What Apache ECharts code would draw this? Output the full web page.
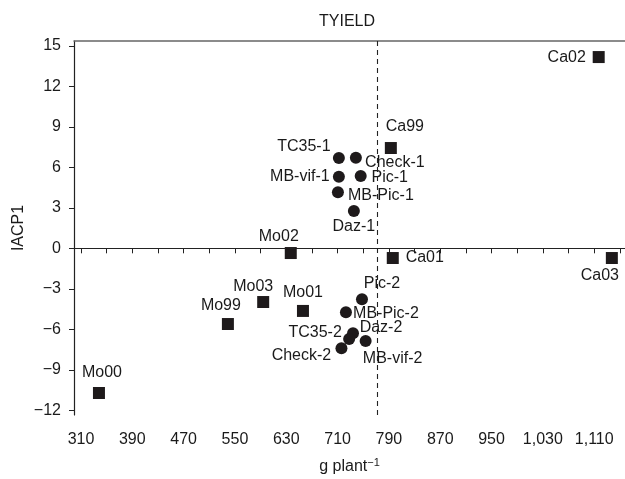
<!DOCTYPE html>
<html><head><meta charset="utf-8">
<script src="https://cdn.jsdelivr.net/npm/echarts@6/dist/echarts.min.js"></script>
<style>html,body{margin:0;padding:0;background:#fff}#c{width:625px;height:479px}</style>
</head><body><div id="c"></div>
<script>
// Data
const squareNames = ['Mo00','Mo99','Mo03','Mo01','Mo02','Ca01','Ca99','Ca02','Ca03'];
const squareX = [338, 539, 594, 656, 637, 796, 793, 1117, 1137.5];
const squareY = [-10.72, -5.61, -3.98, -4.64, -0.35, -0.72, 7.43, 14.17, -0.72];
const circleNames = ['TC35-1','Check-1','MB-vif-1','Pic-1','MB-Pic-1','Daz-1','Pic-2','MB-Pic-2','Daz-2','TC35-2','Check-2','MB-vif-2'];
const circleX = [712, 738.5, 712, 746, 710.5, 735.4, 748, 723, 734, 728, 716, 753.7];
const circleY = [6.69, 6.71, 5.30, 5.36, 4.15, 2.76, -3.78, -4.74, -6.30, -6.72, -7.41, -6.87];
const refX = 772;
const refY = 0;
const xTicks = [310,350,390,430,470,510,550,590,630,670,710,750,790,830,870,910,950,990,1030,1070,1110,1150];
const xLabels = [310,390,470,550,630,710,790,870,950,1030,1110];
const yTicks = [-12,-9,-6,-3,0,3,6,9,12,15];

// Label offsets (style): label centre relative to marker centre, px
const squareLabelOffsets = [[3,-20],[-7,-18],[-10,-15],[0,-18],[-12,-16],[32,0],[14,-21],[-32,1],[-12,18]];
const circleLabelOffsets = [[-35,-11],[39,5],[-39,0],[29,2],[43,3],[0,16],[20,-16],[40,1],[28,-6],[-34,-6],[-40,7],[27,18]];

const FONT = '"Liberation Sans Narrow", "Liberation Sans", Arial, sans-serif';
const TXT = '#1a1a1a';
const MARK = '#1e1a1b';

function build(names, xs, ys, offs) {
  return names.map((n, i) => ({
    name: n, value: [xs[i], ys[i]],
    label: { offset: offs[i] }
  }));
}

const chart = echarts.init(document.getElementById('c'), null, { renderer: 'canvas' });
const labelBase = { show: true, position: 'inside', formatter: '{b}', color: TXT, fontFamily: FONT, fontSize: 16 };
chart.setOption({
  animation: false,
  title: { text: 'TYIELD', left: 342, top: 9, textAlign: 'center',
    textStyle: { fontFamily: FONT, fontSize: 16, fontWeight: 'normal', color: TXT } },
  grid: { left: 74, right: 0, top: 41, bottom: 64, containLabel: false, outerBoundsMode: 'none' },
  xAxis: [{
    type: 'value', min: 299.1, max: 1158,
    axisLine: { show: true, lineStyle: { color: '#222', width: 1.2 } },
    axisTick: { show: true, length: 5, customValues: xTicks, lineStyle: { color: '#222' } },
    axisLabel: { customValues: xLabels, margin: 17, color: TXT, fontFamily: FONT, fontSize: 16,
      formatter: v => v.toLocaleString('en-US') },
    splitLine: { show: false },
    name: '{n|g plant}{s|\u22121}', nameLocation: 'middle', nameGap: 42, nameMoveOverlap: false,
    nameTextStyle: { color: TXT, fontFamily: FONT, rich: {
      n: { fontSize: 16, fontFamily: FONT, color: TXT, lineHeight: 20 },
      s: { fontSize: 11, fontFamily: FONT, color: TXT, verticalAlign: 'top', lineHeight: 20, padding: [0,0,8,0] }
    } }
  }, {
    type: 'value', position: 'top', min: 299.1, max: 1158,
    axisLine: { show: true, lineStyle: { color: '#666', width: 1.5 } },
    axisTick: { show: false }, axisLabel: { show: false }, splitLine: { show: false }
  }],
  yAxis: {
    type: 'value', min: -12.35, max: 15.36,
    axisLine: { show: true, lineStyle: { color: '#222', width: 1.2 } },
    axisTick: { show: true, length: 5, customValues: yTicks, lineStyle: { color: '#222' } },
    axisLabel: { customValues: yTicks, margin: 13, color: TXT, fontFamily: FONT, fontSize: 16,
      formatter: v => (v < 0 ? '\u2212' + Math.abs(v) : String(v)) },
    splitLine: { show: false },
    name: 'IACP1', nameLocation: 'middle', nameGap: 47, nameMoveOverlap: false,
    nameTextStyle: { color: TXT, fontFamily: FONT, fontSize: 16 }
  },
  series: [{
    type: 'scatter', symbol: 'rect', symbolSize: 12,
    itemStyle: { color: MARK, opacity: 1 },
    label: labelBase,
    data: build(squareNames, squareX, squareY, squareLabelOffsets),
    markLine: {
      silent: true, symbol: 'none', label: { show: false },
      lineStyle: { type: [5, 4], color: '#222', width: 1.1 },
      data: [{ xAxis: refX }, { yAxis: refY }]
    }
  }, {
    type: 'scatter', symbol: 'circle', symbolSize: 12,
    itemStyle: { color: MARK, opacity: 1 },
    label: labelBase,
    data: build(circleNames, circleX, circleY, circleLabelOffsets)
  }]
});
</script></body></html>
